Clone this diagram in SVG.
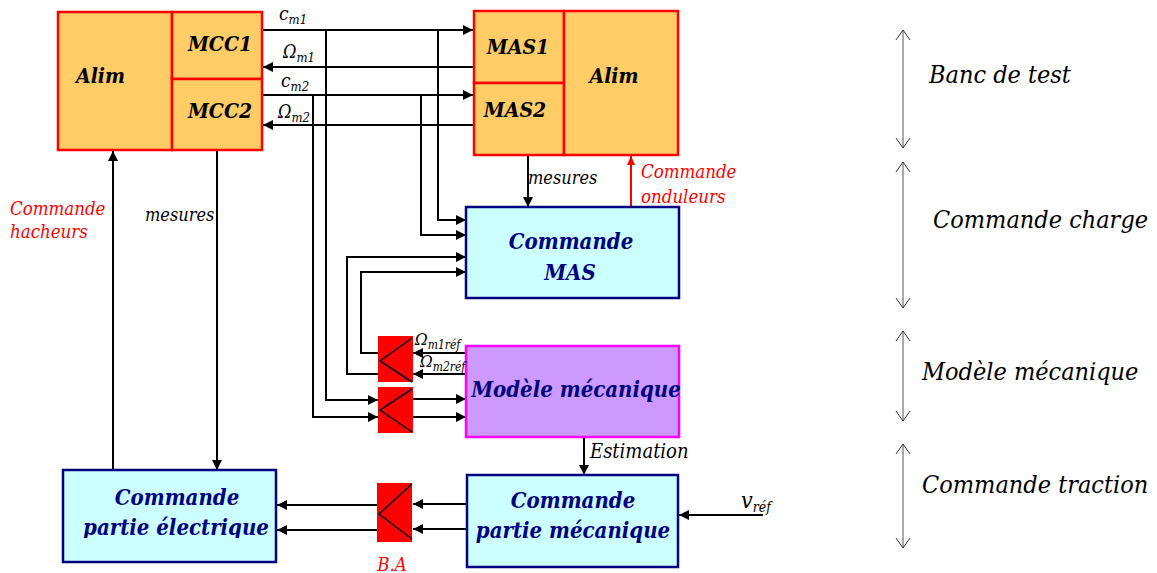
<svg xmlns="http://www.w3.org/2000/svg" width="1157" height="573" viewBox="0 0 1157 573">
<style>
.t{font-family:"DejaVu Serif",serif;font-style:italic;font-stretch:condensed}
.bx{font-weight:bold;font-size:21px;fill:#000}
.bn{font-weight:bold;font-size:22px;fill:#000080}
.lbl{fill:#000}
.red{font-size:18.5px;fill:#FF0000}
.side{font-size:25px;fill:#000}
.orange{fill:#FFCC66;stroke:#FF0000;stroke-width:2.5}
.cyan{fill:#CCFFFF;stroke:#000080;stroke-width:2.5}
.lav{fill:#CC99FF;stroke:#FF00FF;stroke-width:2.5}
.blk{fill:#FF0000;stroke:none}
.w{fill:none;stroke:#000;stroke-width:2}
.wr{fill:none;stroke:#FF0000;stroke-width:2}
.dim{fill:none;stroke:#555;stroke-width:1}
</style>
<defs>
<marker id="ah" markerUnits="userSpaceOnUse" markerWidth="12" markerHeight="12" viewBox="0 0 12 12" refX="11" refY="6" orient="auto"><path d="M1,1 L11,6 L1,11 Z" fill="#000"/></marker>
<marker id="ahr" markerUnits="userSpaceOnUse" markerWidth="12" markerHeight="12" viewBox="0 0 12 12" refX="11" refY="6" orient="auto"><path d="M2,2 L11,6 L2,10 Z" fill="#FF0000"/></marker>
<marker id="ov" markerUnits="userSpaceOnUse" markerWidth="16" markerHeight="18" viewBox="0 0 16 18" refX="11" refY="9" orient="auto-start-reverse"><path d="M1,2 L11,9 L1,16" fill="none" stroke="#333" stroke-width="1"/></marker>
<clipPath id="cpeclip"><rect x="60" y="468" width="220" height="70"/></clipPath>
</defs>

<g id="connectors">
<path class="w" d="M263,30 H473" marker-end="url(#ah)"/>
<path class="w" d="M473,67 H263" marker-end="url(#ah)"/>
<path class="w" d="M263,95 H473" marker-end="url(#ah)"/>
<path class="w" d="M473,125 H263" marker-end="url(#ah)"/>
<path class="w" d="M438,30 V220 H466" marker-end="url(#ah)"/>
<path class="w" d="M421,95 V235 H466" marker-end="url(#ah)"/>
<path class="w" d="M326,30 V400 H378" marker-end="url(#ah)"/>
<path class="w" d="M313,95 V417 H378" marker-end="url(#ah)"/>
<path class="w" d="M413,399 H466" marker-end="url(#ah)"/>
<path class="w" d="M413,417 H466" marker-end="url(#ah)"/>
<path class="w" d="M466,353 H413" marker-end="url(#ah)"/>
<path class="w" d="M466,374 H413" marker-end="url(#ah)"/>
<path class="w" d="M378,353 H361 V272 H466" marker-end="url(#ah)"/>
<path class="w" d="M378,374 H347 V257 H466" marker-end="url(#ah)"/>
<path class="w" d="M528,155 V207" marker-end="url(#ah)"/>
<path class="wr" d="M631,207 V156" marker-end="url(#ahr)"/>
<path class="w" d="M584,437 V475" marker-end="url(#ah)"/>
<path class="w" d="M763,515 H679" marker-end="url(#ah)"/>
<path class="w" d="M467,504 H413" marker-end="url(#ah)"/>
<path class="w" d="M467,529 H413" marker-end="url(#ah)"/>
<path class="w" d="M377,505 H277" marker-end="url(#ah)"/>
<path class="w" d="M377,530 H277" marker-end="url(#ah)"/>
<path class="w" d="M113,470 V151" marker-end="url(#ah)"/>
<path class="w" d="M217,151 V470" marker-end="url(#ah)"/>
<path class="dim" d="M903,30 V148" marker-start="url(#ov)" marker-end="url(#ov)"/>
<path class="dim" d="M903,162 V308" marker-start="url(#ov)" marker-end="url(#ov)" stroke="#999"/>
<path class="dim" d="M903,331 V421" marker-start="url(#ov)" marker-end="url(#ov)"/>
<path class="dim" d="M903,444 V548" marker-start="url(#ov)" marker-end="url(#ov)"/>
</g>

<g id="alim-mcc">
<rect class="orange" x="58" y="12" width="114" height="138"/>
<text class="t bx" x="76" y="83">Alim</text>
</g>
<g id="mcc1">
<rect class="orange" x="172" y="12" width="90" height="67"/>
<text class="t bx" x="220" y="51" text-anchor="middle">MCC1</text>
</g>
<g id="mcc2">
<rect class="orange" x="172" y="79" width="90" height="71"/>
<text class="t bx" x="220" y="118" text-anchor="middle">MCC2</text>
</g>

<g id="mas1">
<rect class="orange" x="474" y="11" width="90" height="72"/>
<text class="t bx" x="518" y="54" text-anchor="middle">MAS1</text>
</g>
<g id="mas2">
<rect class="orange" x="474" y="83" width="90" height="72"/>
<text class="t bx" x="515" y="117" text-anchor="middle">MAS2</text>
</g>
<g id="alim-mas">
<rect class="orange" x="564" y="11" width="114" height="144"/>
<text class="t bx" x="614" y="83" text-anchor="middle">Alim</text>
</g>

<g id="commande-mas">
<rect class="cyan" x="466" y="207" width="213" height="91"/>
<text class="t bn" x="571" y="249" text-anchor="middle">Commande</text>
<text class="t bn" x="570" y="280" text-anchor="middle">MAS</text>
</g>

<g id="modele-mecanique">
<rect class="lav" x="466" y="346" width="213" height="91"/>
<text class="t bn" x="576" y="397" text-anchor="middle">Modèle mécanique</text>
</g>

<g id="block-1">
<rect class="blk" x="378" y="336" width="35" height="46"/>
<path d="M412,338 L380,361 L412,382" fill="none" stroke="#000" stroke-width="1.5"/>
</g>
<g id="block-2">
<rect class="blk" x="378" y="387" width="35" height="46"/>
<path d="M412,389 L380,410 L412,432" fill="none" stroke="#000" stroke-width="1.5"/>
</g>
<g id="block-ba">
<rect class="blk" x="377" y="483" width="35" height="59"/>
<path d="M412,484 L379,514 L412,539" fill="none" stroke="#000" stroke-width="1.5"/>
<text class="t red" x="392" y="571" text-anchor="middle">B.A</text>
</g>

<g id="commande-partie-mecanique">
<rect class="cyan" x="467" y="475" width="211" height="92"/>
<text class="t bn" x="573" y="508" text-anchor="middle">Commande</text>
<text class="t bn" x="573" y="538" text-anchor="middle">partie mécanique</text>
</g>

<g id="commande-partie-electrique">
<rect class="cyan" x="63" y="470" width="213" height="92"/>
<text class="t bn" x="177" y="505" text-anchor="middle">Commande</text>
<text class="t bn" x="176" y="535" text-anchor="middle" clip-path="url(#cpeclip)">partie électrique</text>
</g>

<g id="labels">
<text class="t lbl" x="279" y="20" font-size="19">c<tspan font-size="13" dy="4">m1</tspan></text>
<text class="t lbl" x="283" y="58" font-size="18">Ω<tspan font-size="13" dy="4">m1</tspan></text>
<text class="t lbl" x="281" y="87" font-size="19">c<tspan font-size="13" dy="4">m2</tspan></text>
<text class="t lbl" x="278" y="118" font-size="18">Ω<tspan font-size="13" dy="4">m2</tspan></text>
<text class="t lbl" x="415" y="345" font-size="17">Ω<tspan font-size="12" dy="4">m1réf</tspan></text>
<text class="t lbl" x="420" y="367" font-size="17">Ω<tspan font-size="12" dy="4">m2réf</tspan></text>
<text class="t lbl" x="528" y="184" font-size="18">mesures</text>
<text class="t lbl" x="145" y="221" font-size="18">mesures</text>
<text class="t lbl" x="590" y="458" font-size="20">Estimation</text>
<text class="t lbl" x="741" y="508" font-size="23">v<tspan font-size="14" dy="4">réf</tspan></text>
<text class="t red" x="641" y="178">Commande</text>
<text class="t red" x="641" y="203">onduleurs</text>
<text class="t red" x="10" y="215">Commande</text>
<text class="t red" x="10" y="238">hacheurs</text>
<text class="t side" x="929" y="83">Banc de test</text>
<text class="t side" x="933" y="228">Commande charge</text>
<text class="t side" x="922" y="380">Modèle mécanique</text>
<text class="t side" x="922" y="493">Commande traction</text>
</g>
</svg>
